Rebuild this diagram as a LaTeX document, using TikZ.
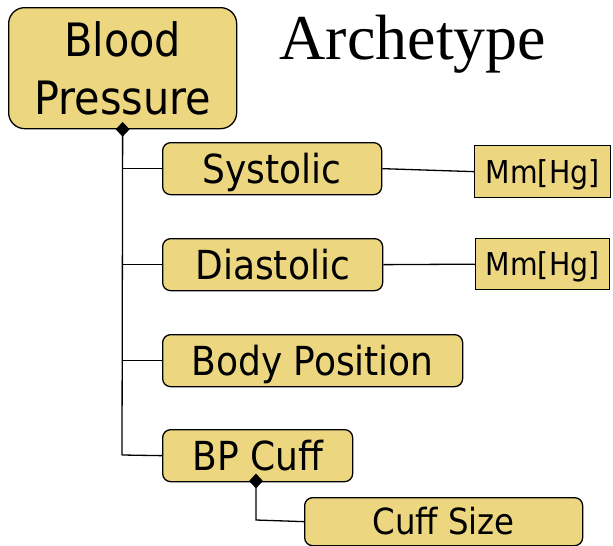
\documentclass[tikz,border=0pt]{standalone}
\usepackage{fontspec}
\setmainfont{DejaVu Sans Condensed}
\newfontfamily\titlefont{Liberation Serif}
\usetikzlibrary{shapes.geometric}
\definecolor{boxfill}{RGB}{236,214,128}
\tikzset{
  x=1pt, y=-1pt,
  item/.style={draw=black, line width=1.3pt, fill=boxfill, rounded corners=8pt,
    anchor=north west, inner sep=0pt, align=center, text height=29pt, text depth=0pt,
    font=\fontsize{40}{44}\selectfont},
  unit/.style={draw=black, line width=1.3pt, fill=boxfill, anchor=north west,
    inner sep=0pt, text height=23pt, text depth=0pt, font=\fontsize{31.5}{34}\selectfont},
  link/.style={draw=black, line width=1.3pt},
  agg/.style={diamond, fill=black, inner sep=0pt, minimum width=14pt, minimum height=15pt}
}
\begin{document}
\begin{tikzpicture}
\useasboundingbox (0,0) rectangle (613,546);
% root concept
\node[item, rounded corners=16pt, minimum width=228pt, minimum height=121pt,
  text height=, text depth=, font=\fontsize{46}{58}\selectfont] (bp) at (8,7) {Blood\\Pressure};
\node[font=\titlefont\fontsize{64}{66}\selectfont] (title) at (413,44) {Archetype};
% children
\node[item, minimum width=219pt, minimum height=52pt] (sys) at (162,142) {Systolic};
\node[item, minimum width=220pt, minimum height=52pt] (dia) at (162,238) {Diastolic};
\node[item, minimum width=300pt, minimum height=52pt] (pos) at (162,334) {Body Position};
\node[item, minimum width=190pt, minimum height=52pt] (cuff) at (162,429) {BP Cuff};
\node[item, minimum width=278pt, minimum height=48pt, text height=26pt,
  font=\fontsize{36}{40}\selectfont] (size) at (304,497) {Cuff Size};
% units
\node[unit, minimum width=136pt, minimum height=52pt] (u1) at (474,145) {Mm[Hg]};
\node[unit, minimum width=134pt, minimum height=51pt] (u2) at (475,238) {Mm[Hg]};
% connectors
\coordinate (trunk) at (122,455);
\draw[link] (bp.south) -- (trunk);
\draw[link] (sys.west) -- (sys.west -| trunk);
\draw[link] (dia.west) -- (dia.west -| trunk);
\draw[link] (pos.west) -- (pos.west -| trunk);
\draw[link] (cuff.west) -- (trunk);
\node[agg] (d1) at (bp.south) {};
\coordinate (bend) at (256,520);
\draw[link] (256,481) -- (bend) -- (size.west);
\node[agg] (d2) at (256,481) {};
\draw[link] (sys.east) -- (u1.west);
\draw[link] (dia.east) -- (u2.west);
\end{tikzpicture}
\end{document}
